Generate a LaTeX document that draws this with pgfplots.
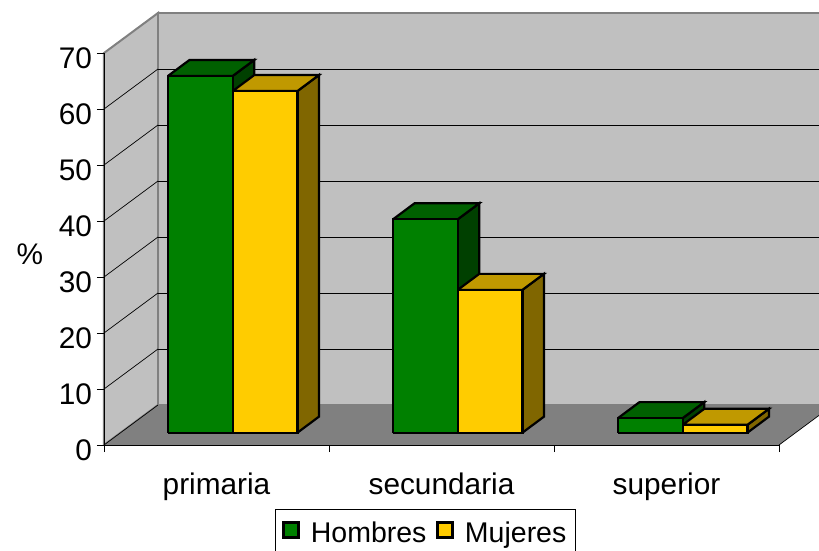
\documentclass[border=0pt]{standalone}
\usepackage{pgfplots}
\pgfplotsset{compat=1.18}
\usepackage{fontspec}
\setmainfont{Liberation Sans}

\definecolor{wallc}{HTML}{C0C0C0}
\definecolor{floorc}{HTML}{808080}
\definecolor{hfront}{HTML}{008000}
\definecolor{htop}{HTML}{006000}
\definecolor{hside}{HTML}{004000}
\definecolor{mfront}{HTML}{FFCC00}
\definecolor{mtop}{HTML}{C09900}
\definecolor{mside}{HTML}{806600}

% bar: left edge, value, front, top, side
\newcommand{\boxbar}[5]{%
  \pgfmathsetmacro\xa{#1}%
  \pgfmathsetmacro\xb{#1+0.2876}%
  \pgfmathsetmacro\xc{#1+0.0956}%
  \pgfmathsetmacro\xd{#1+0.2876+0.0956}%
  \pgfmathsetmacro\ya{2.2}%
  \pgfmathsetmacro\yb{2.2+#2}%
  \pgfmathsetmacro\yc{2.2+2.857}%
  \pgfmathsetmacro\yd{2.2+#2+2.857}%
  \edef\temp{%
    \noexpand\addplot[fill=#5,face] coordinates {(\xb,\ya) (\xd,\yc) (\xd,\yd) (\xb,\yb) (\xb,\ya)};
    \noexpand\addplot[fill=#4,face] coordinates {(\xa,\yb) (\xb,\yb) (\xd,\yd) (\xc,\yd) (\xa,\yb)};
    \noexpand\addplot[fill=#3,face] coordinates {(\xa,\ya) (\xb,\ya) (\xb,\yb) (\xa,\yb) (\xa,\ya)};
  }\temp}

\begin{document}
\begin{tikzpicture}[x=1pt,y=1pt]
\path[use as bounding box] (-104,-105) rectangle (715,445);
\clip (-104,-105) rectangle (715,445);
\begin{axis}[
    at={(0,0)},anchor=south west,
    scale only axis,width=675pt,height=392pt,
    xmin=0,xmax=3,ymin=0,ymax=70,
    clip=false,axis on top,
    axis x line*=bottom,axis y line*=left,
    axis line style={black,line width=0.8pt},
    xtick={0,1,2,3},
    xticklabels={primaria,secundaria,superior},
    x tick label as interval,
    ytick={0,10,...,70},
    tick align=outside,major tick length=7pt,
    tick style={black,line width=0.8pt},
    tick label style={font=\fontsize{29.8}{32}\selectfont},
    /pgf/number format/assume math mode=true,
    x tick label style={yshift=-17pt},
    y tick label style={xshift=-1.5pt,yshift=-5.5pt},
    no markers,
    every axis plot/.append style={forget plot},
    face/.style={draw=black,line width=2.2pt,line join=miter},
    wall/.style={draw=floorc,line width=2pt},
    gridl/.style={draw=black,line width=0.7pt},
    legend style={at={(0.2533,-0.163)},anchor=north west,draw=black,line width=0.8pt,
      font=\fontsize{28.5}{30}\selectfont,inner xsep=7pt,inner ysep=11pt,
      /tikz/every even column/.append style={column sep=8pt},
      /tikz/every odd column/.append style={column sep=9pt}},
    legend columns=2,
  ]
  % walls and floor
  \addplot[fill=wallc,wall] coordinates {(0,0) (0.24,7.143) (0.24,77.143) (0,70) (0,0)};
  \addplot[fill=wallc,wall] coordinates {(0.24,7.143) (3.24,7.143) (3.24,77.143) (0.24,77.143) (0.24,7.143)};
  \addplot[fill=floorc,draw=none] coordinates {(0,0) (3,0) (3.24,7.143) (0.24,7.143) (0,0)};
  \addplot[gridl] coordinates {(3,0) (3.24,7.143)};
  % gridlines
  \pgfplotsinvokeforeach{0,10,20,30,40,50,60}{
    \addplot[gridl] coordinates {(0,#1) (0.24,#1+7.143)};
  }
  \addplot[gridl] coordinates {(0.24,17.143) (3.24,17.143)};
  \addplot[gridl] coordinates {(0.24,27.143) (3.24,27.143)};
  \addplot[gridl] coordinates {(0.24,37.143) (3.24,37.143)};
  \addplot[gridl] coordinates {(0.24,47.143) (3.24,47.143)};
  \addplot[gridl] coordinates {(0.24,57.143) (3.24,57.143)};
  \addplot[gridl] coordinates {(0.24,67.143) (3.24,67.143)};
  % bars
  \boxbar{0.2844}{63.7}{hfront}{htop}{hside}
  \boxbar{0.5720}{61.0}{mfront}{mtop}{mside}
  \boxbar{1.2844}{38.1}{hfront}{htop}{hside}
  \boxbar{1.5720}{25.5}{mfront}{mtop}{mside}
  \boxbar{2.2844}{2.6}{hfront}{htop}{hside}
  \boxbar{2.5720}{1.4}{mfront}{mtop}{mside}
  \addlegendimage{legend image code/.code={\draw[fill=hfront,draw=black,line width=2.5pt] (0pt,-4pt) rectangle (15pt,11pt);}}
  \addlegendentry{Hombres}
  \addlegendimage{legend image code/.code={\draw[fill=mfront,draw=black,line width=2.5pt] (0pt,-4pt) rectangle (15pt,11pt);}}
  \addlegendentry{Mujeres}
\end{axis}
\node[font=\fontsize{29.8}{32}\selectfont] at (-74,191) {\%};
\end{tikzpicture}
\end{document}
